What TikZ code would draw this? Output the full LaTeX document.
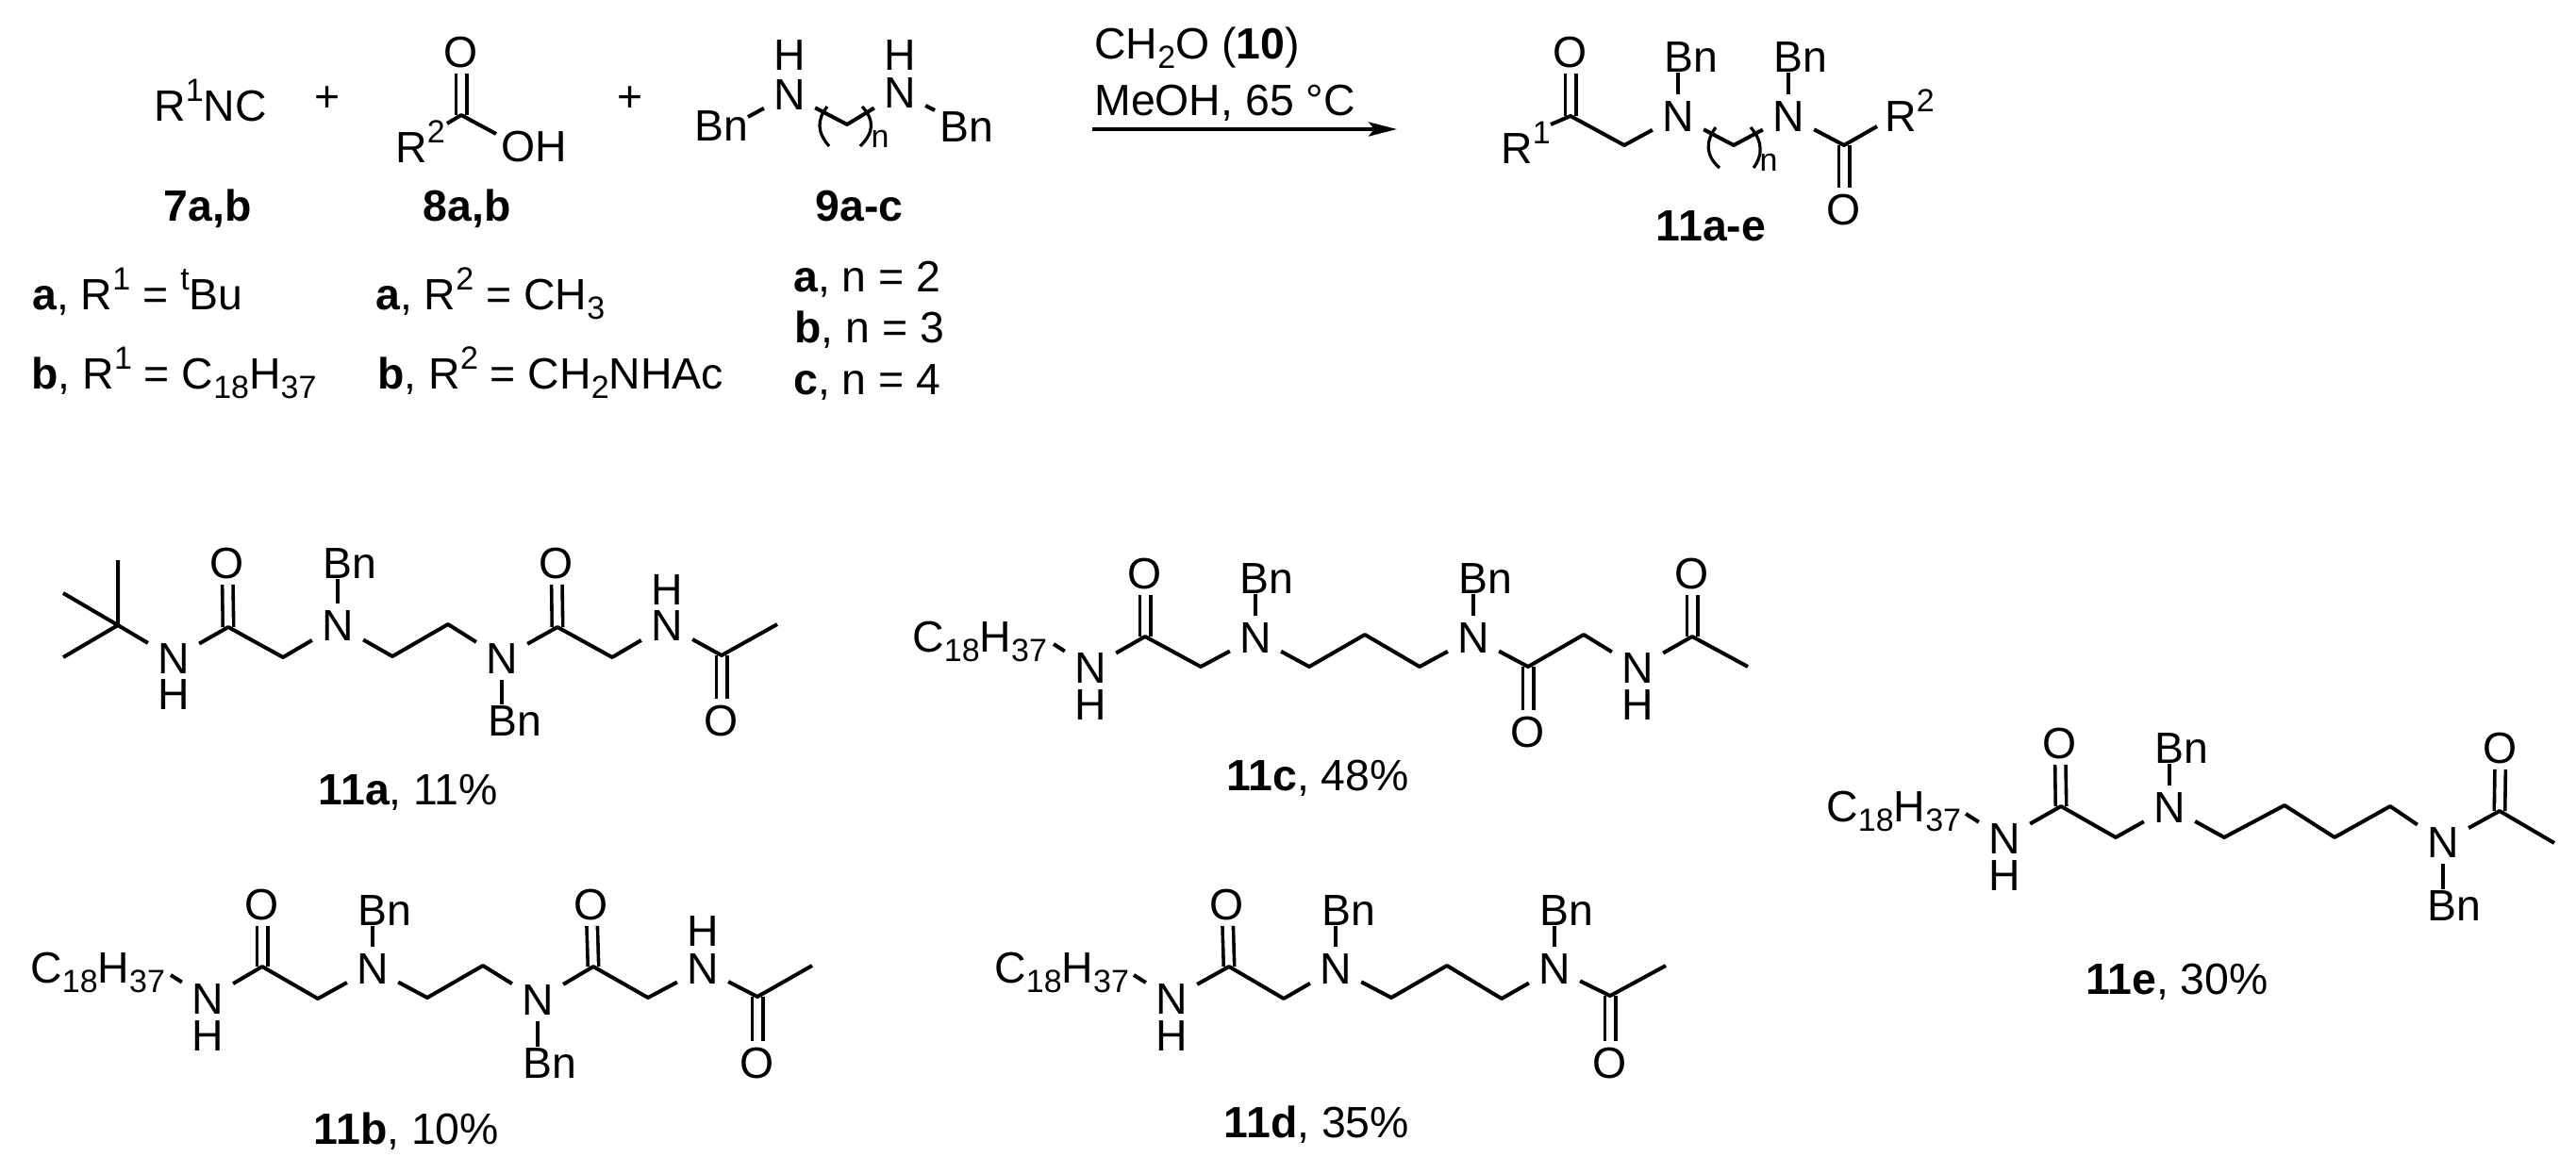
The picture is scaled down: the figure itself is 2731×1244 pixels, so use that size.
\documentclass[tikz,border=0pt]{standalone}
\usepackage{fontspec}
\setmainfont{Liberation Sans}
\usetikzlibrary{arrows.meta}
\newcommand\lowr[1]{\raisebox{-0.22em}{\fontsize{17}{17}\selectfont #1}}
\newcommand\upr[1]{\raisebox{0.45em}{\fontsize{17}{17}\selectfont #1}}
\newcommand\ctt{C\lowr{18}H\lowr{37}}
\newcommand\vx[2]{\coordinate (#1) at (#2);}
\tikzset{
  bond/.style={line width=2pt,line join=round,black},
  thinb/.style={line width=1.6pt,black},
  dblb/.style={line width=1.8pt,double=white,double distance=3.9pt,black},
  atom/.style={font=\fontsize{23.2}{27}\selectfont,text height=16.6pt,text depth=0pt,inner xsep=5pt,inner ysep=3pt},
  txt/.style={font=\fontsize{23.2}{27}\selectfont,text height=16.6pt,text depth=0pt,inner sep=0pt,anchor=west},
  lab/.style={font=\fontsize{23.2}{27}\selectfont,text height=16.6pt,text depth=0pt,inner sep=0pt},
  sm/.style={font=\fontsize{17}{17}\selectfont,inner sep=0pt},
  rxn/.style={line width=2pt,-{Stealth[length=15pt,width=7.5pt,inset=3pt]}}
}
\begin{document}
\begin{tikzpicture}[x=0.5pt,y=-0.5pt]
\path[use as bounding box,fill=white] (0,0) rectangle (2731,1244);
% --- top row ---
\node[txt] (t7) at (163,111.5) {R\upr{1}NC};
\node[lab] (p1) at (347,102) {+};
\node[lab] (p2) at (668,102) {+};
% acid
\vx{acC}{489,122} \vx{acR}{474,131} \vx{acOb}{526,142}
\node[atom] (acO) at (489,55) {O};
\node[txt] (acRt) at (419,156) {R\upr{2}};
\node[txt] (acOH) at (531,155) {OH};
\draw[dblb] (acC) -- (acO);
\draw[bond] (acR) -- (acC) -- (acOb);
% diamine
\node[atom] (d1) at (837,100) {N};
\node[atom] (d2) at (954,98) {N};
\node[lab] (d1h) at (837,58) {H};
\node[lab] (d2h) at (954,58) {H};
\node[lab] (d1b) at (765,133) {Bn};
\node[lab] (d2b) at (1025,134) {Bn};
\vx{dm}{898,132} \vx{d1e}{793,124} \vx{d2e}{991,117}
\draw[bond] (d1e) -- (d1) -- (dm) -- (d2) -- (d2e);
\vx{dl1}{877,113} \vx{dl2}{879,155} \vx{dr1}{914,113} \vx{dr2}{912,155}
\draw[thinb] (dl1) .. controls (866,127) and (866,140) .. (dl2);
\draw[thinb] (dr1) .. controls (927,127) and (927,140) .. (dr2);
\node[sm] (dn) at (933,147) {n};
\node[lab] (l7) at (220,218) {\textbf{7a,b}};
\node[lab] (l8) at (495,218) {\textbf{8a,b}};
\node[lab] (l9) at (911,218) {\textbf{9a-c}};
\node[txt] (r1a) at (34,311.5) {\textbf{a}, R\upr{1} = \upr{t}Bu};
\node[txt] (r1b) at (33,395.5) {\textbf{b}, R\upr{1} = \ctt};
\node[txt] (r2a) at (398,311.5) {\textbf{a}, R\upr{2} = CH\lowr{3}};
\node[txt] (r2b) at (400,395.5) {\textbf{b}, R\upr{2} = CH\lowr{2}NHAc};
\node[txt] (na) at (841,292.5) {\textbf{a}, n = 2};
\node[txt] (nb) at (842,346.5) {\textbf{b}, n = 3};
\node[txt] (nc) at (841,401.5) {\textbf{c}, n = 4};
% arrow
\node[txt] (c1) at (1160,45.5) {CH\lowr{2}O (\textbf{10})};
\node[txt] (c2) at (1160,105.5) {MeOH, 65 °C};
\vx{ar1}{1158,137} \vx{ar2}{1481,137}
\draw[rxn] (ar1) -- (ar2);
% general product
\vx{gC1}{1665,123} \vx{gCh}{1722,154} \vx{gM}{1838,154} \vx{gC2}{1955,154} \vx{gR1}{1644,132} \vx{gR2}{1990,134}
\node[atom] (gO1) at (1665,55) {O};
\node[atom] (gO2) at (1955,222) {O};
\node[atom] (gN1) at (1779,123) {N};
\node[atom] (gN2) at (1896,123) {N};
\node[lab] (gB1) at (1793,60) {Bn};
\node[lab] (gB2) at (1909,60) {Bn};
\node[txt] (gRa) at (1591,157) {R\upr{1}};
\node[txt] (gRb) at (1998,123) {R\upr{2}};
\draw[dblb] (gC1) -- (gO1);
\draw[dblb] (gC2) -- (gO2);
\draw[bond] (gR1) -- (gC1) -- (gCh) -- (gN1) -- (gM) -- (gN2) -- (gC2) -- (gR2);
\draw[thinb] (gN1) -- (gN1 |- gB1.south);
\draw[thinb] (gN2) -- (gN2 |- gB2.south);
\vx{gl1}{1819,135} \vx{gl2}{1823,178} \vx{gr1}{1856,135} \vx{gr2}{1859,178}
\draw[thinb] (gl1) .. controls (1808,150) and (1808,165) .. (gl2);
\draw[thinb] (gr1) .. controls (1869,150) and (1869,165) .. (gr2);
\node[sm] (gn) at (1875,172) {n};
\node[lab] (l11) at (1814,239) {\textbf{11a-e}};
% --- 11a ---
\vx{aq}{125,663} \vx{am1}{125,594} \vx{am2}{67,629} \vx{am3}{67,697}
\vx{aC1}{242,665} \vx{aH1}{300,697} \vx{aE1}{416,696} \vx{aE2}{475,662} \vx{aC2}{591,665} \vx{aH2}{649,697} \vx{aC3}{765,695} \vx{aMe}{824,662}
\node[atom] (aN0) at (184,698) {N}; \node[lab] (aH0) at (184,736) {H};
\node[atom] (aO1) at (241,597) {O};
\node[atom] (aN1) at (358,663) {N}; \node[lab] (aB1) at (371,597) {Bn};
\node[atom] (aN2) at (532,698) {N}; \node[lab] (aB2) at (546,764) {Bn};
\node[atom] (aO2) at (590,597) {O};
\node[atom] (aN3) at (707,663) {N}; \node[lab] (aH3) at (707,625) {H};
\node[atom] (aO3) at (765,764) {O};
\draw[dblb] (aC1) -- (aO1); \draw[dblb] (aC2) -- (aO2); \draw[dblb] (aC3) -- (aO3);
\draw[bond] (am1) -- (aq) -- (aN0) -- (aC1) -- (aH1) -- (aN1) -- (aE1) -- (aE2) -- (aN2) -- (aC2) -- (aH2) -- (aN3) -- (aC3) -- (aMe);
\draw[bond] (am2) -- (aq) -- (am3);
\draw[thinb] (aN1) -- (aN1 |- aB1.south);
\draw[thinb] (aN2) -- (aN2 |- aB2.north);
\node[lab] (la) at (433,837) {\textbf{11a}, 11\%};
% --- 11b ---
\vx{bRe}{181,1034} \vx{bC1}{278,1025} \vx{bH1}{337,1059} \vx{bE1}{453,1058} \vx{bE2}{512,1024} \vx{bC2}{629,1025} \vx{bH2}{687,1058} \vx{bC3}{803,1057} \vx{bMe}{861,1024}
\node[txt] (bR) at (32,1026) {\ctt};
\node[atom] (bN0) at (220,1059) {N}; \node[lab] (bH0) at (220,1098) {H};
\node[atom] (bO1) at (278,959) {O};
\node[atom] (bN1) at (395,1027) {N}; \node[lab] (bB1) at (408,965) {Bn};
\node[atom] (bN2) at (570,1060) {N}; \node[lab] (bB2) at (583,1127) {Bn};
\node[atom] (bO2) at (627,959) {O};
\node[atom] (bN3) at (745,1027) {N}; \node[lab] (bH3) at (745,987) {H};
\node[atom] (bO3) at (803,1127) {O};
\draw[dblb] (bC1) -- (bO1); \draw[dblb] (bC2) -- (bO2); \draw[dblb] (bC3) -- (bO3);
\draw[bond] (bRe) -- (bN0) -- (bC1) -- (bH1) -- (bN1) -- (bE1) -- (bE2) -- (bN2) -- (bC2) -- (bH2) -- (bN3) -- (bC3) -- (bMe);
\draw[thinb] (bN1) -- (bN1 |- bB1.south);
\draw[thinb] (bN2) -- (bN2 |- bB2.north);
\node[lab] (lb) at (431,1197) {\textbf{11b}, 10\%};
% --- 11c ---
\vx{cRe}{1117,683} \vx{cC1}{1214,675} \vx{cH1}{1273,707} \vx{cP1}{1388,707} \vx{cP2}{1447,673} \vx{cP3}{1505,707} \vx{cC2}{1620,707} \vx{cH2}{1679,673} \vx{cC3}{1794,675} \vx{cMe}{1853,707}
\node[txt] (cR) at (967,675) {\ctt};
\node[atom] (cN0) at (1156,708) {N}; \node[lab] (cH0) at (1156,747) {H};
\node[atom] (cO1) at (1214,608) {O};
\node[atom] (cN1) at (1331,676) {N}; \node[lab] (cB1) at (1343,613) {Bn};
\node[atom] (cN2) at (1562,676) {N}; \node[lab] (cB2) at (1575,613) {Bn};
\node[atom] (cO2) at (1620,776) {O};
\node[atom] (cN3) at (1736,708) {N}; \node[lab] (cH3) at (1736,747) {H};
\node[atom] (cO3) at (1794,608) {O};
\draw[dblb] (cC1) -- (cO1); \draw[dblb] (cC2) -- (cO2); \draw[dblb] (cC3) -- (cO3);
\draw[bond] (cRe) -- (cN0) -- (cC1) -- (cH1) -- (cN1) -- (cP1) -- (cP2) -- (cP3) -- (cN2) -- (cC2) -- (cH2) -- (cN3) -- (cC3) -- (cMe);
\draw[thinb] (cN1) -- (cN1 |- cB1.south);
\draw[thinb] (cN2) -- (cN2 |- cB2.south);
\node[lab] (lc) at (1397,822) {\textbf{11c}, 48\%};
% --- 11d ---
\vx{dRe}{1202,1034} \vx{dC1}{1303,1025} \vx{dH1}{1361,1059} \vx{dP1}{1475,1058} \vx{dP2}{1534,1024} \vx{dP3}{1592,1059} \vx{dC2}{1707,1056} \vx{dMe}{1766,1024}
\node[txt] (dR) at (1054,1026) {\ctt};
\node[atom] (dN0) at (1242,1059) {N}; \node[lab] (dH0) at (1242,1098) {H};
\node[atom] (dO1) at (1301,959) {O};
\node[atom] (dN1) at (1416,1027) {N}; \node[lab] (dB1) at (1430,965) {Bn};
\node[atom] (dN2) at (1648,1027) {N}; \node[lab] (dB2) at (1661,965) {Bn};
\node[atom] (dO2) at (1707,1127) {O};
\draw[dblb] (dC1) -- (dO1); \draw[dblb] (dC2) -- (dO2);
\draw[bond] (dRe) -- (dN0) -- (dC1) -- (dH1) -- (dN1) -- (dP1) -- (dP2) -- (dP3) -- (dN2) -- (dC2) -- (dMe);
\draw[thinb] (dN1) -- (dN1 |- dB1.south);
\draw[thinb] (dN2) -- (dN2 |- dB2.south);
\node[lab] (ld) at (1396,1190) {\textbf{11d}, 35\%};
% --- 11e ---
\vx{eRe}{2084,863} \vx{eC1}{2185,855} \vx{eH1}{2243,888} \vx{eP1}{2358,888} \vx{eP2}{2422,854} \vx{eP3}{2475,888} \vx{eP4}{2534,855} \vx{eC2}{2650,860} \vx{eMe}{2708,894}
\node[txt] (eR) at (1936,855) {\ctt};
\node[atom] (eN0) at (2125,889) {N}; \node[lab] (eH0) at (2125,928) {H};
\node[atom] (eO1) at (2184,788) {O};
\node[atom] (eN1) at (2300,856) {N}; \node[lab] (eB1) at (2313,793) {Bn};
\node[atom] (eN2) at (2590,893) {N}; \node[lab] (eB2) at (2602,960) {Bn};
\node[atom] (eO2) at (2651,793) {O};
\draw[dblb] (eC1) -- (eO1); \draw[dblb] (eC2) -- (eO2);
\draw[bond] (eRe) -- (eN0) -- (eC1) -- (eH1) -- (eN1) -- (eP1) -- (eP2) -- (eP3) -- (eP4) -- (eN2) -- (eC2) -- (eMe);
\draw[thinb] (eN1) -- (eN1 |- eB1.south);
\draw[thinb] (eN2) -- (eN2 |- eB2.north);
\node[lab] (le) at (2308,1038) {\textbf{11e}, 30\%};
\end{tikzpicture}
\end{document}
